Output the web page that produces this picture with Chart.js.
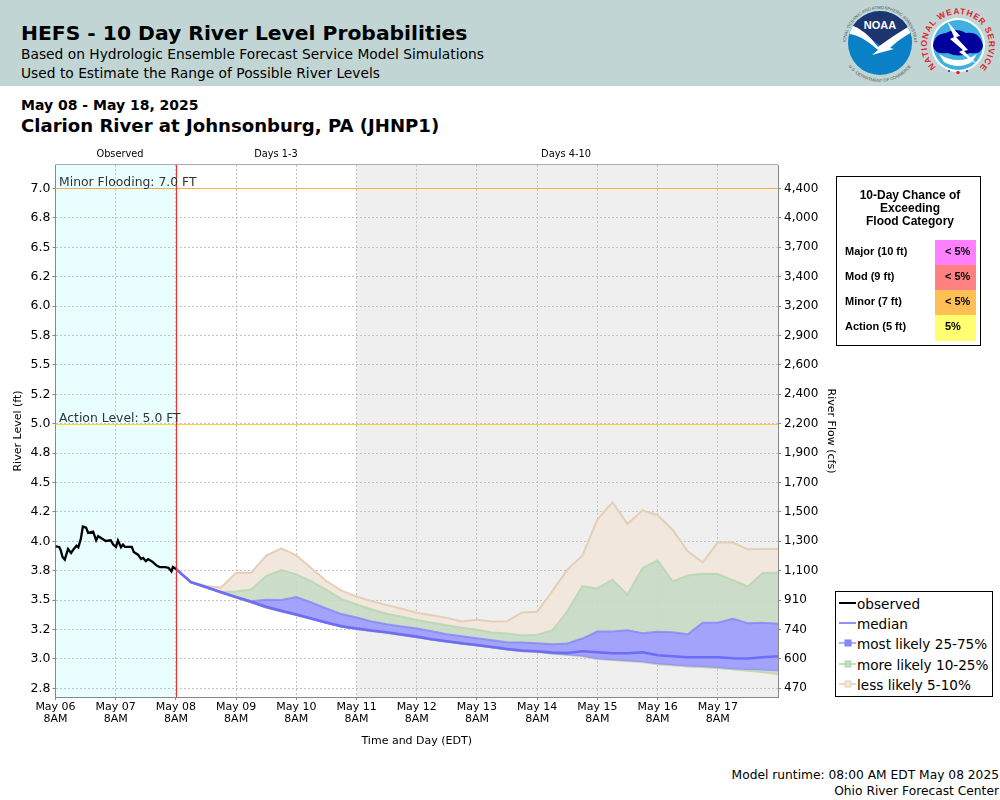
<!DOCTYPE html>
<html>
<head>
<meta charset="utf-8">
<title>HEFS - 10 Day River Level Probabilities</title>
<script src="https://cdn.jsdelivr.net/npm/chart.js@4"></script>
<style>
  html,body{margin:0;padding:0;background:#fff;}
  body{width:1000px;height:800px;position:relative;overflow:hidden;font-family:"DejaVu Sans",sans-serif;color:#000;}
  .abs{position:absolute;white-space:nowrap;}
  #band{position:absolute;left:0;top:0;width:1000px;height:86px;background:#c1d6d4;}
  #chart{position:absolute;left:0;top:0;}
  #logos{position:absolute;left:800px;top:0;}
  .period{position:absolute;top:148px;font-size:9.8px;line-height:12px;transform:translateX(-50%);}
  /* flood category box */
  #cat{position:absolute;left:836px;top:176px;width:143px;height:168px;border:1px solid #000;background:#fff;font-family:"Liberation Sans",Arial,sans-serif;font-weight:bold;}
  #cat .t{position:absolute;left:0;width:146px;top:12px;text-align:center;font-size:12px;line-height:13px;}
  #cat .l{position:absolute;left:8px;font-size:11px;line-height:23px;}
  #cat .s{position:absolute;left:98px;width:41px;height:25px;font-size:11px;line-height:23px;text-indent:10px;}
  /* legend */
  #leg{position:absolute;left:835px;top:591px;width:156px;height:104px;border:1px solid #000;background:#fff;}
  #leg .r{position:absolute;left:21px;font-size:13.6px;line-height:20px;white-space:nowrap;}
  #leg svg{position:absolute;left:0;top:0;}
</style>
</head>
<body>
<div id="band"></div>
<div class="abs" style="left:21px;top:18px;font-size:20.3px;line-height:30px;font-weight:bold;">HEFS - 10 Day River Level Probabilities</div>
<div class="abs" style="left:21px;top:45px;font-size:13.8px;line-height:18px;">Based on Hydrologic Ensemble Forecast Service Model Simulations</div>
<div class="abs" style="left:21px;top:64px;font-size:13.8px;line-height:18px;">Used to Estimate the Range of Possible River Levels</div>

<svg id="logos" width="200" height="86" viewBox="0 0 200 86">
  <defs>
    <path id="noaaTop" d="M 46 43 A 34 34 0 0 1 114 43"/>
    <path id="noaaBot" d="M 41 43 A 39 39 0 0 0 119 43"/>
    <path id="nwsRing" d="M 136 67 A 31 31 0 1 1 180 67"/>
    <clipPath id="noaaClip"><circle cx="80" cy="43" r="32"/></clipPath>
  </defs>
  <circle cx="80" cy="43" r="32" fill="#0a80c6"/>
  <path d="M 48 43 A 32 32 0 0 1 112 43 L 112 26 L 84 48 Q 70 38 50 26 Z" fill="#1f3570" clip-path="url(#noaaClip)"/>
  <path d="M 49 24 Q 66 30 78 47 Q 93 36 113 24 L 112 32 Q 98 40 90 48 L 94 49 L 72 55 L 78 50 Q 60 34 48 34 Z" fill="#fff" clip-path="url(#noaaClip)"/>
  <text x="80" y="29" text-anchor="middle" font-family="Liberation Sans" font-size="11" font-weight="bold" fill="#fff">NOAA</text>
  <text font-family="Liberation Sans" font-size="4.3" fill="#555"><textPath href="#noaaTop" startOffset="50%" text-anchor="middle">NATIONAL OCEANIC AND ATMOSPHERIC ADMINISTRATION</textPath></text>
  <text font-family="Liberation Sans" font-size="4.3" fill="#555"><textPath href="#noaaBot" startOffset="50%" text-anchor="middle">U.S. DEPARTMENT OF COMMERCE</textPath></text>

  <circle cx="158" cy="45" r="27" fill="#fff"/>
  <circle cx="158" cy="45" r="25" fill="#3fb0e0"/>
  <path d="M 133 46 Q 134 34 146 33 Q 156 27 166 33 Q 180 31 183 46 Q 181 55 170 53 Q 158 58 148 53 Q 135 55 133 46 Z" fill="#00009a"/>
  <path d="M 139 54 Q 158 66 177 54 L 172 62 Q 158 70 144 62 Z" fill="#fff"/>
  <path d="M 147 21 L 160 36 L 156 37 L 168 50 L 164 51 L 178 65 L 159 52 L 163 50 L 150 39 L 154 37 Z" fill="#fff"/>
  <text font-family="Liberation Sans" font-size="8.5" font-weight="bold" fill="#e0222a"><textPath href="#nwsRing" textLength="146" lengthAdjust="spacing">NATIONAL WEATHER SERVICE</textPath></text>
  <circle cx="149" cy="71" r="1" fill="#2030a0"/>
  <circle cx="167" cy="71" r="1" fill="#2030a0"/>
  <circle cx="158" cy="72.5" r="1.8" fill="#e0222a"/>
</svg>

<div class="abs" style="left:21px;top:96px;font-size:14px;line-height:18px;font-weight:bold;">May 08 - May 18, 2025</div>
<div class="abs" style="left:21px;top:114px;font-size:18.1px;line-height:23px;font-weight:bold;">Clarion River at Johnsonburg, PA (JHNP1)</div>

<canvas id="chart" width="840" height="750"></canvas>

<div class="period" style="left:120px;">Observed</div>
<div class="period" style="left:276px;">Days 1-3</div>
<div class="period" style="left:566px;">Days 4-10</div>

<div id="cat">
  <div class="t">10-Day Chance of<br>Exceeding<br>Flood Category</div>
  <div class="l" style="top:63px;">Major (10 ft)</div><div class="s" style="top:63px;background:#ff80ff;">&lt; 5%</div>
  <div class="l" style="top:88px;">Mod (9 ft)</div><div class="s" style="top:88px;background:#ff8080;">&lt; 5%</div>
  <div class="l" style="top:113px;">Minor (7 ft)</div><div class="s" style="top:113px;background:#ffbf55;">&lt; 5%</div>
  <div class="l" style="top:138px;">Action (5 ft)</div><div class="s" style="top:138px;height:26px;background:#ffff70;">5%</div>
</div>

<div id="leg">
  <svg width="156" height="104">
    <line x1="3" x2="20" y1="11" y2="11" stroke="#000" stroke-width="2"/>
    <line x1="3" x2="20" y1="31" y2="31" stroke="#9090ff" stroke-width="2"/>
    <line x1="3" x2="20" y1="51" y2="51" stroke="#b0b0ff" stroke-width="2"/>
    <rect x="9" y="48" width="6" height="6" fill="#8888f8" stroke="#8080f0"/>
    <line x1="3" x2="20" y1="72" y2="72" stroke="#c4e2be" stroke-width="2"/>
    <rect x="9" y="69" width="6" height="6" fill="#c4dcc0" stroke="#b0d4a8"/>
    <line x1="3" x2="20" y1="92" y2="92" stroke="#ecd9c4" stroke-width="2"/>
    <rect x="9" y="89" width="6" height="6" fill="#f0e6da" stroke="#e4d2bc"/>
  </svg>
  <div class="r" style="top:2px;">observed</div>
  <div class="r" style="top:22px;">median</div>
  <div class="r" style="top:42px;">most likely 25-75%</div>
  <div class="r" style="top:63px;">more likely 10-25%</div>
  <div class="r" style="top:83px;">less likely 5-10%</div>
</div>

<div class="abs" style="right:1px;top:767px;font-size:12.25px;line-height:16px;text-align:right;">Model runtime: 08:00 AM EDT May 08 2025<br>Ohio River Forecast Center</div>

<script>
/* ═══════════════════════════════════
   DATA (hours after May 06 8AM)
═══════════════════════════════════ */
var obsHours = [0,1.5,2.1,2.8,3.7,5,6.2,7.3,8.4,9.1,10.1,10.9,12.2,13,15,16.2,17,18.3,20,22,23,24.1,24.9,26.1,26.9,27.7,30.4,31.2,33,34.1,34.9,36,36.9,38.6,40.2,41.5,43.8,45.1,46.2,46.8,48];
var obsLevels = [3.957,3.952,3.923,3.866,3.844,3.935,3.901,3.935,3.963,3.949,4.02,4.125,4.116,4.071,4.082,4.009,4.043,4.026,4.003,4.009,3.972,3.952,4.006,3.949,3.972,3.952,3.952,3.909,3.884,3.849,3.858,3.832,3.849,3.827,3.795,3.781,3.781,3.773,3.744,3.781,3.764];

var fcstHours = [48,54,60,66,72,78,84,90,96,102,108,114,120,126,132,138,144,150,156,162,168,174,180,186,192,198,204,210,216,222,228,234,240,246,252,258,264,270,276,282,288];
var median = [3.764,3.653,3.611,3.568,3.525,3.486,3.443,3.409,3.378,3.344,3.31,3.278,3.259,3.241,3.227,3.207,3.19,3.168,3.151,3.134,3.119,3.102,3.085,3.071,3.065,3.054,3.051,3.065,3.057,3.048,3.048,3.057,3.031,3.023,3.014,3.014,3.014,3.006,3.003,3.014,3.023];
var high75 = [3.764,3.653,3.612,3.57,3.528,3.491,3.503,3.5,3.526,3.48,3.429,3.381,3.352,3.318,3.295,3.276,3.259,3.236,3.21,3.193,3.176,3.159,3.142,3.139,3.134,3.125,3.131,3.173,3.233,3.233,3.244,3.219,3.23,3.227,3.21,3.307,3.307,3.341,3.304,3.307,3.298];
var high90 = [3.764,3.653,3.614,3.57,3.574,3.591,3.705,3.756,3.719,3.659,3.588,3.508,3.463,3.42,3.384,3.358,3.33,3.307,3.287,3.264,3.247,3.224,3.216,3.199,3.205,3.241,3.403,3.619,3.599,3.673,3.545,3.773,3.838,3.659,3.71,3.724,3.722,3.67,3.616,3.73,3.733];
var high95 = [3.764,3.656,3.62,3.608,3.733,3.733,3.878,3.94,3.881,3.77,3.662,3.58,3.531,3.491,3.457,3.426,3.392,3.372,3.349,3.318,3.332,3.318,3.321,3.395,3.401,3.574,3.759,3.878,4.185,4.332,4.148,4.264,4.222,4.099,3.915,3.821,3.991,3.989,3.932,3.935,3.935];
var low25 = [3.764,3.651,3.608,3.565,3.523,3.483,3.438,3.406,3.375,3.341,3.307,3.276,3.256,3.239,3.224,3.205,3.185,3.165,3.148,3.131,3.116,3.099,3.082,3.068,3.063,3.048,3.04,3.028,3.006,2.997,2.989,2.98,2.963,2.955,2.943,2.94,2.932,2.92,2.915,2.909,2.903];
var low10 = [3.764,3.65,3.606,3.563,3.521,3.481,3.436,3.404,3.373,3.339,3.305,3.274,3.254,3.237,3.222,3.203,3.183,3.163,3.146,3.129,3.114,3.097,3.08,3.066,3.06,3.045,3.036,3.024,3.002,2.993,2.984,2.975,2.957,2.949,2.937,2.932,2.925,2.913,2.904,2.892,2.875];
var low5 = [3.764,3.65,3.605,3.562,3.52,3.48,3.435,3.403,3.372,3.338,3.304,3.273,3.253,3.236,3.221,3.202,3.182,3.162,3.145,3.128,3.113,3.096,3.079,3.065,3.059,3.044,3.035,3.022,3,2.99,2.981,2.972,2.955,2.947,2.935,2.93,2.923,2.911,2.9,2.886,2.869];

var levelTicks = [7,6.75,6.5,6.25,6,5.75,5.5,5.25,5,4.75,4.5,4.25,4,3.75,3.5,3.25,3,2.75];
var levelLabels = ['7.0','6.8','6.5','6.2','6.0','5.8','5.5','5.2','5.0','4.8','4.5','4.2','4.0','3.8','3.5','3.2','3.0','2.8'];
var flowLabels = ['4,400','4,000','3,700','3,400','3,200','2,900','2,600','2,400','2,200','1,900','1,700','1,500','1,300','1,100','910','740','600','470'];
var dayTicks = [0,24,48,72,96,120,144,168,192,216,240,264];
var dayLabels = ['May 06','May 07','May 08','May 09','May 10','May 11','May 12','May 13','May 14','May 15','May 16','May 17'];

var LEVEL_MIN = 2.676, LEVEL_MAX = 7.2;

function pairs(xs, ys){
  return xs.map(function(x,i){ return {x:x, y:ys[i]}; });
}

// bands sit under the median and observed lines (higher order draws first)
function band(label, values, target, line, fillColor){
  return {
    label:label,
    data:pairs(fcstHours, values),
    borderColor:line,
    borderWidth:2,
    backgroundColor:fillColor,
    fill:target === null ? false : {target:target},
    pointRadius:0,
    tension:0,
    order:2
  };
}

function crisp(px){
  return Math.floor(px+.3)+.5;
}

/* ═══════════════════════════════════
   BACKGROUND AND THRESHOLD LINES
═══════════════════════════════════ */
var shadePlugin = {
  id:'shade',
  beforeDraw:function(chart){
    var c = chart.ctx, a = chart.chartArea, x = chart.scales.x;
    c.save();
    c.fillStyle = '#e9ffff';
    c.fillRect(a.left, a.top, x.getPixelForValue(48)-a.left, a.height);
    c.fillStyle = '#efefef';
    c.fillRect(x.getPixelForValue(120), a.top, a.right-x.getPixelForValue(120), a.height);
    c.restore();
  },
  afterDraw:function(chart){
    var c = chart.ctx, a = chart.chartArea, x = chart.scales.x, y = chart.scales.y;
    var y7 = crisp(y.getPixelForValue(7)), y5 = crisp(y.getPixelForValue(5)), xNow = crisp(x.getPixelForValue(48));
    c.save();
    c.lineWidth = 1;
    c.strokeStyle = '#ffaa46';
    c.beginPath(); c.moveTo(a.left, y7); c.lineTo(a.right, y7); c.stroke();
    c.strokeStyle = '#ffd228';
    c.beginPath(); c.moveTo(a.left, y5); c.lineTo(a.right, y5); c.stroke();
    c.strokeStyle = '#ff2828';
    c.beginPath(); c.moveTo(xNow, a.top); c.lineTo(xNow, a.bottom); c.stroke();
    c.strokeStyle = '#aaa';
    c.beginPath(); c.moveTo(a.left, a.top-.5); c.lineTo(a.right, a.top-.5); c.stroke();
    c.fillStyle = '#333';
    c.font = '12.4px "DejaVu Sans"';
    c.fillText('Minor Flooding: 7.0 FT', a.left+3.5, y7-2.5);
    c.fillText('Action Level: 5.0 FT', a.left+3.5, y5-2.5);
    c.restore();
  }
};

/* ═══════════════════════════════════
   CHART
═══════════════════════════════════ */
var TAN_LINE = 'rgba(226,204,178,0.9)', TAN_FILL = 'rgba(240,230,218,0.95)';
var GRN_LINE = 'rgba(184,216,176,0.9)', GRN_FILL = 'rgba(200,218,196,0.92)';
var BLU_LINE = 'rgba(130,130,250,0.75)', BLU_FILL = 'rgba(158,158,252,0.95)';

function yTickSetter(axis){
  axis.ticks = levelTicks.map(function(v){ return {value:v}; });
}

new Chart(document.getElementById('chart'), {
  type:'line',
  data:{
    datasets:[
      {label:'observed', data:pairs(obsHours, obsLevels), borderColor:'#000', borderWidth:2.3, pointRadius:0, tension:0, fill:false, order:0},
      {label:'median', data:pairs(fcstHours, median), borderColor:'#6c6cf8', borderWidth:2.5, pointRadius:0, tension:0, fill:false, order:1},
      band('high75', high75, 5, BLU_LINE, BLU_FILL),     // index 2, down to low25
      band('high90', high90, 2, GRN_LINE, GRN_FILL),     // index 3
      band('high95', high95, 3, TAN_LINE, TAN_FILL),     // index 4
      band('low25', low25, 6, BLU_LINE, GRN_FILL),       // index 5
      band('low10', low10, 7, GRN_LINE, TAN_FILL),       // index 6
      band('low5', low5, null, TAN_LINE, TAN_FILL)       // index 7
    ]
  },
  options:{
    responsive:false,
    animation:false,
    devicePixelRatio:1,
    layout:{padding:{top:165, left:0, right:0, bottom:0}},
    plugins:{legend:{display:false}, tooltip:{enabled:false}},
    scales:{
      x:{
        type:'linear', min:0, max:288,
        afterBuildTicks:function(axis){
          axis.ticks = dayTicks.map(function(v){ return {value:v}; });
        },
        afterFit:function(axis){ axis.height = 53; },
        grid:{color:'#c2c2c2', tickLength:3, tickColor:'#888', tickBorderDash:[]},
        border:{color:'#888', dash:[2,2]},
        ticks:{
          autoSkip:false, maxRotation:0, padding:1, color:'#000', font:{family:'DejaVu Sans', size:11, lineHeight:1.1},
          callback:function(v){ return [dayLabels[dayTicks.indexOf(v)], '8AM']; }
        },
        title:{display:true, text:'Time and Day (EDT)', color:'#000', font:{family:'DejaVu Sans', size:11}, padding:{top:0, bottom:2}}
      },
      y:{
        position:'left', min:LEVEL_MIN, max:LEVEL_MAX,
        afterBuildTicks:yTickSetter,
        afterFit:function(axis){ axis.width = 55.5; },
        grid:{color:'#c2c2c2', tickLength:3, tickColor:'#888', tickBorderDash:[]},
        border:{color:'#888', dash:[2,2]},
        ticks:{
          autoSkip:false, padding:2, color:'#000', font:{family:'DejaVu Sans', size:12.5},
          callback:function(v){ return levelLabels[levelTicks.indexOf(v)]; }
        },
        title:{display:true, text:'River Level (ft)', color:'#000', font:{family:'DejaVu Sans', size:11}, padding:{top:12, bottom:0}}
      },
      y2:{
        position:'right', min:LEVEL_MIN, max:LEVEL_MAX,
        afterBuildTicks:yTickSetter,
        afterFit:function(axis){ axis.width = 62; },
        grid:{drawOnChartArea:false, tickLength:3, tickColor:'#888'},
        border:{color:'#888'},
        ticks:{
          autoSkip:false, padding:3, color:'#000', font:{family:'DejaVu Sans', size:12},
          callback:function(v){ return flowLabels[levelTicks.indexOf(v)]; }
        },
        title:{display:true, text:'River Flow (cfs)', color:'#000', font:{family:'DejaVu Sans', size:11}, padding:{top:3, bottom:0}}
      }
    }
  },
  plugins:[shadePlugin]
});
</script>
</body>
</html>
